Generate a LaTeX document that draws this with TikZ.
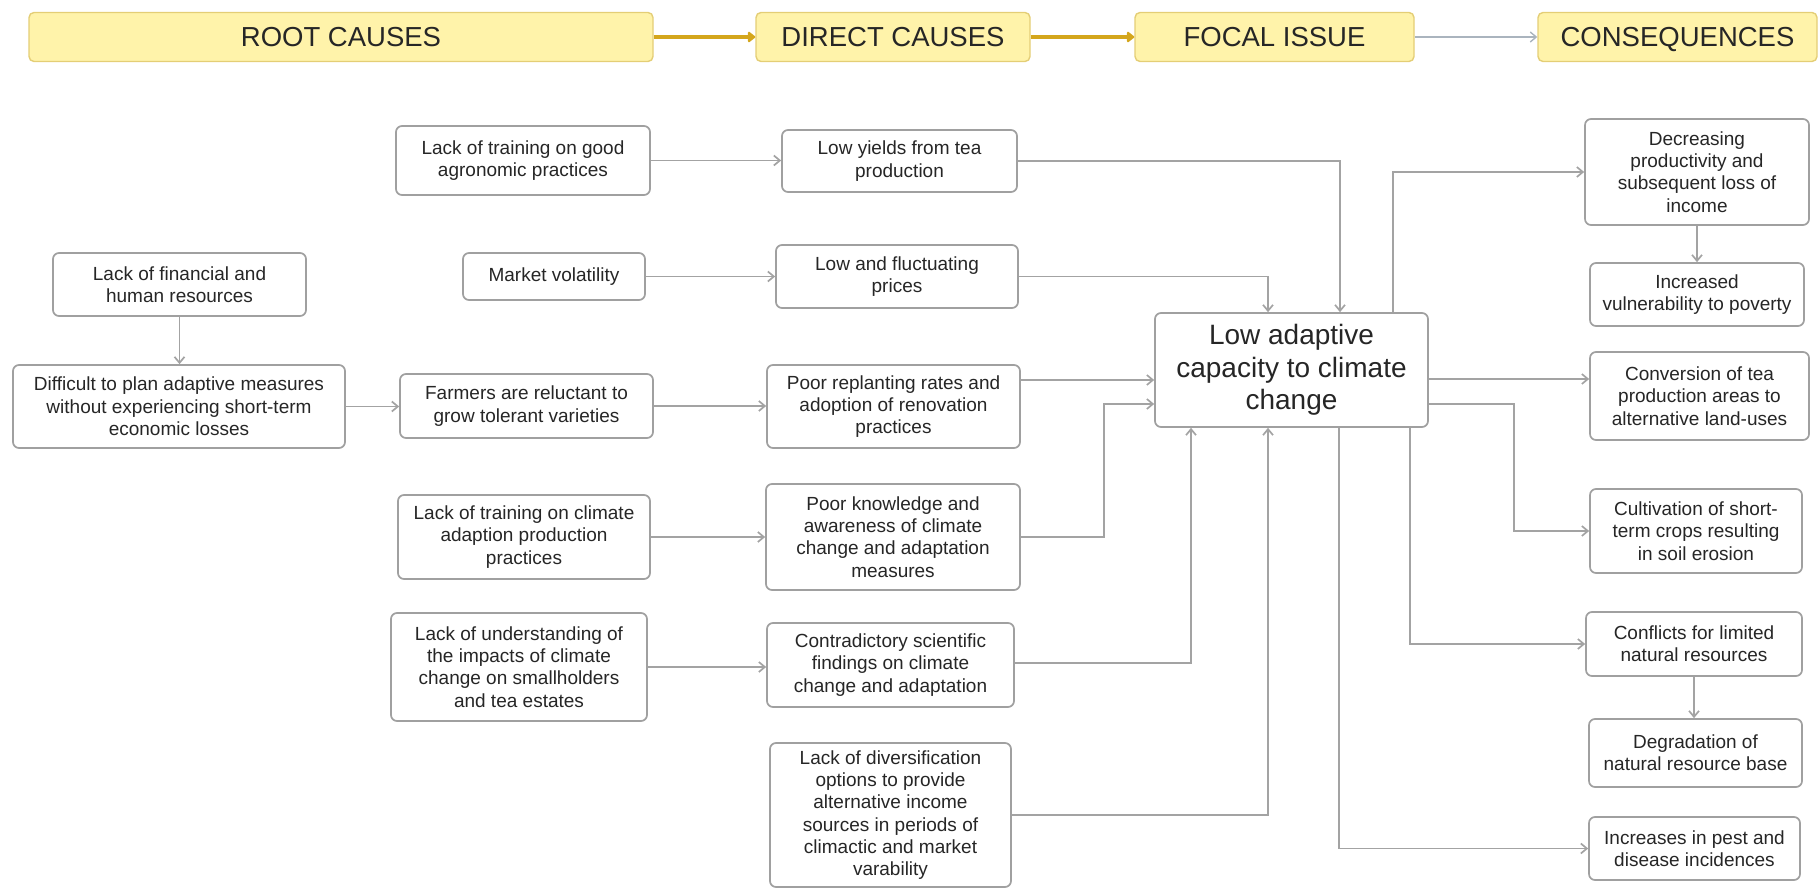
\documentclass[tikz,border=0pt]{standalone}
\usepackage{fontspec}
\setmainfont{Liberation Sans}
\usetikzlibrary{arrows.meta}

\definecolor{boxline}{RGB}{160,160,160}
\definecolor{connline}{RGB}{163,163,163}
\definecolor{boxtext}{RGB}{38,38,38}
\definecolor{headfill}{RGB}{255,243,170}
\definecolor{headline}{RGB}{228,206,118}
\definecolor{gold}{RGB}{212,166,28}
\definecolor{headarrow}{RGB}{170,180,190}

\tikzset{
  box/.style n args={2}{draw=boxline, line width=1.7pt, rounded corners=6pt,
    fill=white, text=boxtext, align=center, inner sep=2pt,
    minimum width=#1, minimum height=#2,
    font=\fontsize{19}{22.3}\selectfont},
  focalbox/.style={box={273pt}{114pt}, font=\fontsize{28}{32.5}\selectfont},
  headbox/.style={draw=headline, line width=1.4pt, rounded corners=5pt,
    fill=headfill, text=black!85, inner sep=2pt,
    text height=20pt, text depth=0pt,
    minimum width=#1, minimum height=49pt,
    font=\fontsize{27.5}{30}\selectfont},
  conn/.style={draw=connline, line width=1.7pt,
    -{Straight Barb[length=6pt,width=10pt]}},
  goldarrow/.style={draw=gold, line width=4pt,
    -{Triangle[length=8pt,width=12pt,round]}},
  thinarrow/.style={draw=headarrow, line width=1.4pt,
    -{Straight Barb[length=6pt,width=10pt]}},
}

\begin{document}
\begin{tikzpicture}[x=1pt,y=-1pt]
\useasboundingbox (0,0) rectangle (1818,890);

% column headings
\node[headbox=624pt] (rootH)   at (341,37)    {ROOT CAUSES};
\node[headbox=274pt] (directH) at (893,37)    {DIRECT CAUSES};
\node[headbox=279pt] (focalH)  at (1274.5,37) {FOCAL ISSUE};
\node[headbox=279pt] (conseqH) at (1677.5,37) {CONSEQUENCES};

\draw[goldarrow] (rootH.east) -- (directH.west);
\draw[goldarrow] (directH.east) -- (focalH.west);
\draw[thinarrow] (focalH.east) -- (conseqH.west);

% root causes
\node[box={253pt}{63pt}]  (finres)        at (179.5,284.5) {Lack of financial and\\human resources};
\node[box={332pt}{83pt}]  (difficult)     at (179,406.5)   {Difficult to plan adaptive measures\\without experiencing short-term\\economic losses};
\node[box={254pt}{69pt}]  (goodtrain)     at (523,160.5)   {Lack of training on good\\agronomic practices};
\node[box={182pt}{47pt}]  (volatility)    at (554,276.5)   {Market volatility};
\node[box={253pt}{64pt}]  (farmers)       at (526.5,406)   {Farmers are reluctant to\\grow tolerant varieties};
\node[box={252pt}{84pt}]  (climtrain)     at (524,537)     {Lack of training on climate\\adaption production\\practices};
\node[box={256pt}{108pt}] (understanding) at (519,667)     {Lack of understanding of\\the impacts of climate\\change on smallholders\\and tea estates};

% direct causes
\node[box={235pt}{62pt}]  (lowyields)       at (899.5,161)  {Low yields from tea\\production};
\node[box={242pt}{63pt}]  (lowprices)       at (897,276.5)  {Low and fluctuating\\prices};
\node[box={253pt}{83pt}]  (replant)         at (893.5,406.5) {Poor replanting rates and\\adoption of renovation\\practices};
\node[box={254pt}{106pt}] (knowledge)       at (893,537)    {Poor knowledge and\\awareness of climate\\change and adaptation\\measures};
\node[box={247pt}{84pt}]  (contradictory)   at (890.5,665)  {Contradictory scientific\\findings on climate\\change and adaptation};
\node[box={241pt}{144pt}] (diversification) at (890.5,815)  {Lack of diversification\\options to provide\\alternative income\\sources in periods of\\climactic and market\\varability};

% focal issue
\node[focalbox] (focal) at (1291.5,370) {Low adaptive\\capacity to climate\\change};

% consequences
\node[box={224pt}{106pt}] (decreasing)    at (1697,172)    {Decreasing\\productivity and\\subsequent loss of\\income};
\node[box={214pt}{63pt}]  (vulnerability) at (1697,294.5)  {Increased\\vulnerability to poverty};
\node[box={219pt}{88pt}]  (conversion)    at (1699.5,396)  {Conversion of tea\\production areas to\\alternative land-uses};
\node[box={212pt}{84pt}]  (cultivation)   at (1696,531)    {Cultivation of short-\\term crops resulting\\in soil erosion};
\node[box={216pt}{64pt}]  (conflicts)     at (1694,644)    {Conflicts for limited\\natural resources};
\node[box={213pt}{68pt}]  (degradation)   at (1695.5,753)  {Degradation of\\natural resource base};
\node[box={211pt}{63pt}]  (pest)          at (1694.5,848.5) {Increases in pest and\\disease incidences};

% root causes to direct causes
\draw[conn] (finres.south) -- (finres.south |- difficult.north);
\draw[conn] (difficult.east) -- (difficult.east -| farmers.west);
\draw[conn] (goodtrain.east) -- (goodtrain.east -| lowyields.west);
\draw[conn] (volatility.east) -- (volatility.east -| lowprices.west);
\draw[conn] (farmers.east) -- (farmers.east -| replant.west);
\draw[conn] (climtrain.east) -- (climtrain.east -| knowledge.west);
\draw[conn] (understanding.east) -- (understanding.east -| contradictory.west);

% direct causes to the focal issue
\draw[conn] (lowyields.east) -| ([xshift=48.5pt]focal.north);
\draw[conn] (lowprices.east) -| ([xshift=-23.5pt]focal.north);
\draw[conn] ([yshift=26.5pt]replant.east) -- ([yshift=26.5pt]replant.east -| focal.west);
\draw[conn] (knowledge.east) -- ++(83pt,0) |- ([yshift=-34pt]focal.west);
\draw[conn] ([yshift=2pt]contradictory.east) -| ([xshift=-100.5pt]focal.south);
\draw[conn] (diversification.east) -| ([xshift=-23.5pt]focal.south);

% focal issue to consequences
\draw[conn] ([xshift=101.5pt]focal.north) |- (decreasing.west);
\draw[conn] ([yshift=-9pt]focal.east) -- ([yshift=-9pt]focal.east -| conversion.west);
\draw[conn] ([yshift=-34pt]focal.east) -- ++(85pt,0) |- (cultivation.west);
\draw[conn] ([xshift=118.5pt]focal.south) |- (conflicts.west);
\draw[conn] ([xshift=47.5pt]focal.south) |- (pest.west);
\draw[conn] (decreasing.south) -- (decreasing.south |- vulnerability.north);
\draw[conn] (conflicts.south) -- (conflicts.south |- degradation.north);
\end{tikzpicture}
\end{document}
